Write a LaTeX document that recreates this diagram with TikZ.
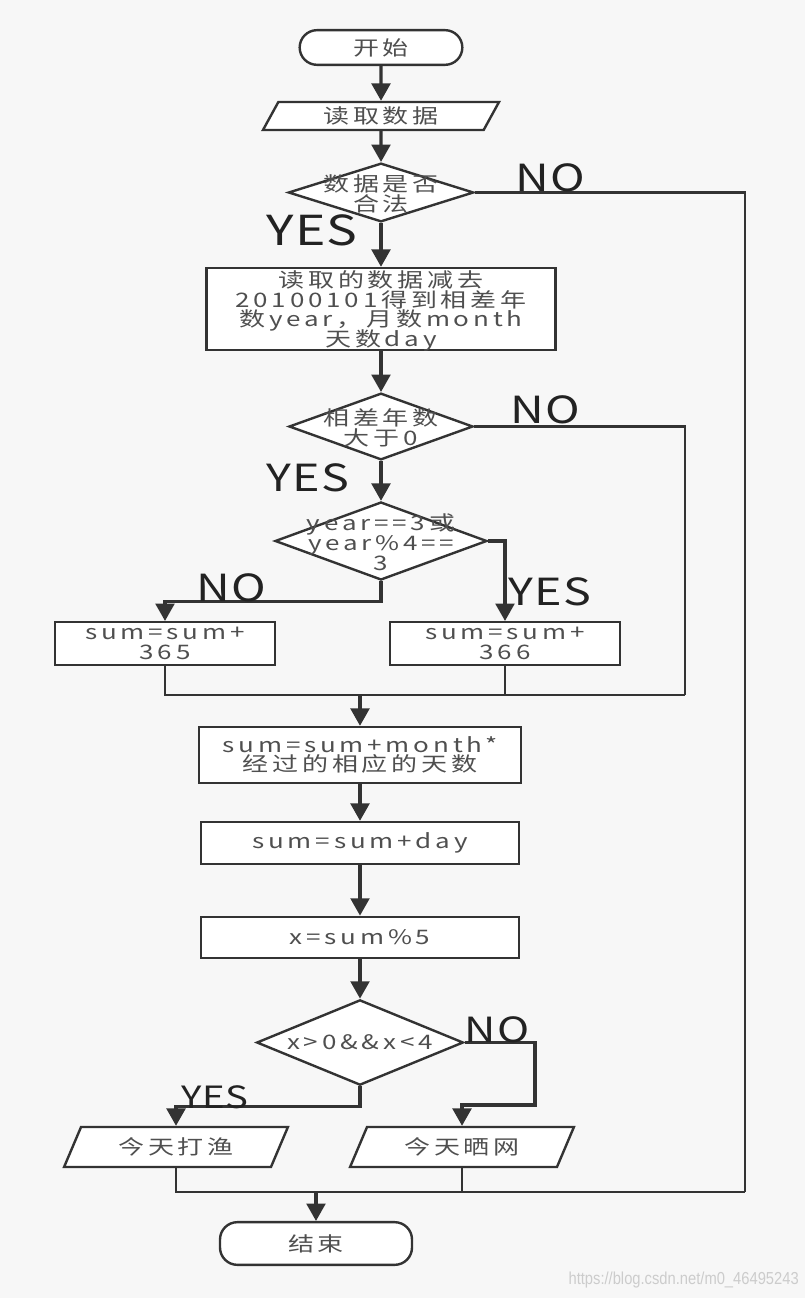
\documentclass[tikz,border=0pt]{standalone}
\usepackage{fontspec}
\setmainfont{Noto Sans CJK SC}[FakeStretch=1.3,LetterSpace=19]
\newfontfamily\labfont{Noto Sans CJK SC}[FakeStretch=1.25,LetterSpace=3]
\newfontfamily\wmfont{Liberation Sans}[FakeStretch=0.85]
\usetikzlibrary{shapes.geometric,arrows.meta}
\definecolor{lc}{HTML}{333333}
\definecolor{tc}{HTML}{4F4F4F}
\definecolor{bg}{HTML}{F7F7F7}
\definecolor{labc}{HTML}{222222}
\lineskiplimit=-30pt
\lineskip=0pt
\tikzset{
  conn/.style={draw=lc, line width=1.8pt},
  arr/.style={draw=lc, line width=2.4pt, -{Triangle[length=13pt,width=14pt]}},
  shp/.style={draw=lc, fill=white, line width=1.8pt, inner sep=0pt, align=center, text=tc,
              font=\fontsize{15}{14.8}\selectfont},
  box/.style={shp, rectangle},
  term/.style={shp, rectangle, rounded corners=13pt},
  para/.style={shp, trapezium, trapezium stretches=true},
  dia/.style={shp, diamond},
  dtxt/.style={inner sep=0pt, align=center, text=tc, font=\fontsize{15}{14.8}\selectfont},
  lab/.style={inner sep=0pt, text=labc, font=\labfont\fontsize{28}{28}\selectfont},
  slab/.style={inner sep=0pt, text=labc, font=\labfont\fontsize{23}{23}\selectfont},
}
\begin{document}
\begin{tikzpicture}[x=0.75pt,y=-0.75pt]
\fill[bg] (0,0) rectangle (805,1298);
\useasboundingbox (0,0) rectangle (805,1298);
% nodes
\node[term, minimum width=122pt, minimum height=26pt] (start) at (381,47.5) {开始};
\node[para, minimum width=178pt, minimum height=21pt, trapezium left angle=65, trapezium right angle=115] (p1) at (381,116) {读取数据};
\node[dia, minimum width=139pt, minimum height=44pt] (d1) at (381,192.5) {};
\node[dtxt] (d1t) at ([yshift=-1pt]d1) {数据是否\\合法};
\node[box, minimum width=262pt, minimum height=61.5pt] (r1) at (381,309) {};
\node[dtxt] (r1t) at ([yshift=-1.5pt]r1) {读取的数据减去\\20100101得到相差年\\数year，月数month\\天数day};
\node[dia, minimum width=138pt, minimum height=50pt] (d2) at (381,426.5) {};
\node[dtxt] (d2t) at ([yshift=-1pt]d2) {相差年数\\大于0};
\node[dia, minimum width=159pt, minimum height=58.5pt] (d3) at (381,541) {};
\node[dtxt] (d3t) at ([yshift=-1pt]d3) {year==3或\\year\%4==\\3};
\node[box, minimum width=165pt, minimum height=32pt] (r365) at (165,643.5) {sum=sum+\\365};
\node[box, minimum width=172.5pt, minimum height=32pt] (r366) at (505,643.5) {sum=sum+\\366};
\node[box, minimum width=241.5pt, minimum height=42pt] (rm) at (360,755) {sum=sum+month*\\经过的相应的天数};
\node[box, minimum width=238.5pt, minimum height=31.5pt] (rd) at (360,843) {sum=sum+day};
\node[box, minimum width=238.5pt, minimum height=31pt] (rx) at (360,937.5) {x=sum\%5};
\node[dia, minimum width=155pt, minimum height=64pt] (d4) at (360,1042.5) {};
\node[dtxt] (d4t) at (d4) {x>0\&\&x<4};
\node[para, minimum width=168pt, minimum height=30pt, trapezium left angle=61, trapezium right angle=119] (pl) at (176,1147) {今天打渔};
\node[para, minimum width=168pt, minimum height=30pt, trapezium left angle=61, trapezium right angle=119] (pr) at (462,1147) {今天晒网};
\node[term, minimum width=144pt, minimum height=32pt] (end) at (316,1243.5) {结束};
% coordinates
\coordinate (c1) at (745,1192);
\coordinate (c2) at (685,695);
\coordinate (n4) at (535,1105);
% connectors
\draw[arr] (start.south) -- (p1.north);
\draw[arr] (p1.south) -- (d1.north);
\draw[arr] (d1.south) -- (r1.north);
\draw[arr] (r1.south) -- (d2.north);
\draw[arr] (d2.south) -- (d3.north);
\draw[conn] (d1.east) -| (c1);
\draw[conn] (pl.south) |- (c1);
\draw[conn] (pr.south) -- (pr.south |- c1);
\draw[arr] (end.north |- c1) -- (end.north);
\draw[conn] (d2.east) -| (c2);
\draw[conn] (r365.south) |- (c2);
\draw[conn] (r366.south) -- (r366.south |- c2);
\draw[arr] (rm.north |- c2) -- (rm.north);
\draw[arr] (d3.south) -- ++(0,20) -| (r365.north);
\draw[arr] (d3.east) -| (r366.north);
\draw[arr] (rm.south) -- (rd.north);
\draw[arr] (rd.south) -- (rx.north);
\draw[arr] (rx.south) -- (d4.north);
\draw[arr] (d4.south) -- ++(0,20) -| (pl.north);
\draw[arr] (d4.east) -| (n4) -| (pr.north);
% labels
\node[lab] (no1) at (550,178) {NO};
\node[lab, font=\labfont\fontsize{31}{31}\selectfont] (yes1) at (312,230) {YES};
\node[lab] (no2) at (545,410) {NO};
\node[lab] (yes2) at (308,478) {YES};
\node[lab] (no3) at (231,588) {NO};
\node[lab] (yes3) at (550,592) {YES};
\node[slab] (yes4) at (215,1097) {YES};
\node[lab, font=\labfont\fontsize{26}{26}\selectfont] (no4) at (497,1030) {NO};
\node[anchor=east, inner sep=0pt, text=gray!40, font=\wmfont\fontsize{13}{13}\selectfont] (wm) at (799,1280) {https://blog.csdn.net/m0\_46495243};
\end{tikzpicture}
\end{document}
